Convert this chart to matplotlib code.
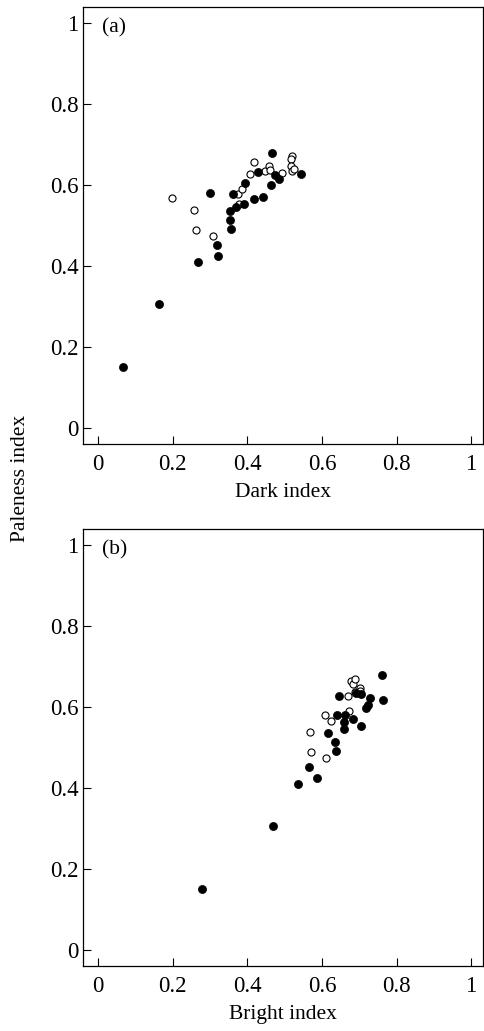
import matplotlib
matplotlib.use("Agg")
import matplotlib.pyplot as plt

plt.rcParams["font.family"] = ["Liberation Serif", "DejaVu Serif"]

# panel (a): dark index vs paleness index
dark_filled_x = [0.067, 0.163, 0.267, 0.299, 0.318, 0.320, 0.353, 0.353, 0.357, 0.361, 0.370,
                 0.392, 0.395, 0.418, 0.429, 0.442, 0.466, 0.463, 0.473, 0.486, 0.544]
dark_filled_y = [0.151, 0.307, 0.411, 0.580, 0.451, 0.425, 0.536, 0.514, 0.491, 0.578, 0.547,
                 0.553, 0.606, 0.565, 0.633, 0.571, 0.680, 0.599, 0.624, 0.616, 0.628]
dark_open_x = [0.198, 0.257, 0.261, 0.308, 0.375, 0.377, 0.385, 0.408, 0.419, 0.448, 0.459,
               0.461, 0.493, 0.520, 0.518, 0.518, 0.519, 0.526]
dark_open_y = [0.567, 0.539, 0.490, 0.474, 0.579, 0.553, 0.590, 0.628, 0.656, 0.634, 0.646,
               0.636, 0.631, 0.672, 0.664, 0.646, 0.635, 0.640]

# panel (b): bright index vs paleness index
bright_filled_x = [0.278, 0.468, 0.535, 0.566, 0.586, 0.615, 0.636, 0.637, 0.641, 0.647, 0.658,
                   0.659, 0.661, 0.683, 0.692, 0.705, 0.706, 0.717, 0.723, 0.728, 0.761, 0.765]
bright_filled_y = [0.152, 0.306, 0.411, 0.452, 0.426, 0.536, 0.514, 0.492, 0.580, 0.628, 0.547,
                   0.564, 0.580, 0.571, 0.635, 0.553, 0.633, 0.599, 0.606, 0.624, 0.680, 0.618]
bright_open_x = [0.569, 0.571, 0.612, 0.607, 0.623, 0.669, 0.673, 0.679, 0.684, 0.689, 0.688,
                 0.703, 0.702]
bright_open_y = [0.540, 0.489, 0.474, 0.580, 0.567, 0.628, 0.591, 0.665, 0.658, 0.671, 0.637,
                 0.647, 0.641]

ticks = [0, 0.2, 0.4, 0.6, 0.8, 1]
tick_labels = ["0", "0.2", "0.4", "0.6", "0.8", "1"]


def draw_panel(ax, open_x, open_y, filled_x, filled_y, letter, xlabel):
    ax.scatter(open_x, open_y, s=26, facecolor="white", edgecolor="black", linewidth=0.8, zorder=2)
    ax.scatter(filled_x, filled_y, s=34, facecolor="black", edgecolor="black", linewidth=0.5, zorder=3)
    ax.set_xlim(-0.04, 1.032)
    ax.set_ylim(-0.04, 1.04)
    ax.set_xticks(ticks)
    ax.set_xticklabels(tick_labels)
    ax.set_yticks(ticks)
    ax.set_yticklabels(tick_labels)
    ax.tick_params(direction="in", length=5.5, width=0.8, labelsize=16.5)
    ax.tick_params(axis="x", pad=7)
    ax.tick_params(axis="y", pad=3.5)
    for spine in ax.spines.values():
        spine.set_linewidth(0.9)
    ax.set_xlabel(xlabel, fontsize=15.5, labelpad=6)
    ax.text(0.046, 0.974, letter, transform=ax.transAxes, ha="left", va="top", fontsize=15.5)


fig = plt.figure(figsize=(4.84, 10.31), dpi=100)
ax_a = fig.add_axes([0.172, 0.5693, 0.826, 0.4239])
ax_b = fig.add_axes([0.172, 0.0628, 0.826, 0.4239])

draw_panel(ax_a, dark_open_x, dark_open_y, dark_filled_x, dark_filled_y, "(a)", "Dark index")
draw_panel(ax_b, bright_open_x, bright_open_y, bright_filled_x, bright_filled_y, "(b)", "Bright index")

fig.text(0.042, 0.536, "Paleness index", rotation=90, ha="center", va="center", fontsize=15.5)

fig.savefig("out.png", dpi=100)
